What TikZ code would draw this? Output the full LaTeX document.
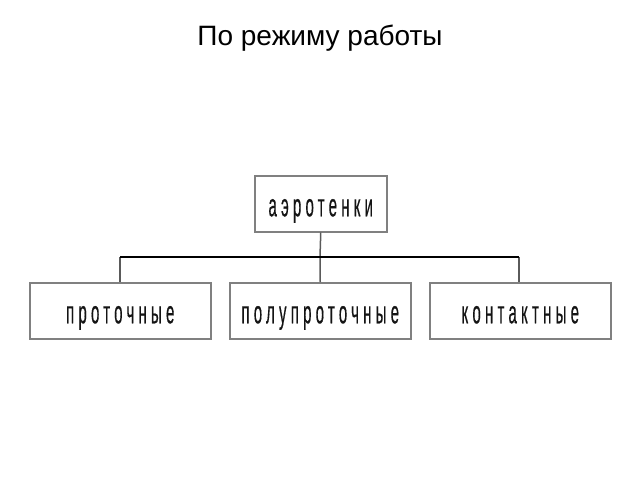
\documentclass[tikz,border=0pt]{standalone}
\usepackage{fontspec}
\setmainfont{Liberation Sans}
\newfontfamily\boxfont[LetterSpace=28,FakeBold=0.6]{Liberation Sans}
\definecolor{boxgray}{RGB}{128,128,128}
\definecolor{linegray}{RGB}{90,90,90}
\definecolor{textdark}{RGB}{20,20,20}
\newcommand{\bt}[1]{\scalebox{0.47}[1]{\boxfont\fontsize{32}{34}\selectfont #1}}
\tikzset{
  catbox/.style={draw=boxgray, line width=1.5pt, fill=white, text=textdark, minimum height=56pt, inner sep=0pt,
    text height=26pt, text depth=1pt, anchor=north west},
  hline/.style={draw=black, line width=1.6pt},
  vline/.style={draw=linegray, line width=1.5pt}
}
\begin{document}
\begin{tikzpicture}[x=1pt,y=-1pt]
\useasboundingbox (0,0) rectangle (640,480);
\node[font=\fontsize{28}{30}\selectfont] (title) at (320,38) {По режиму работы};
\node[catbox, minimum width=132pt] (top) at (254,175) {\bt{аэротенки}};
\node[catbox, minimum width=181pt] (b1) at (29,282) {\bt{проточные}};
\node[catbox, minimum width=181pt] (b2) at (229,282) {\bt{полупроточные}};
\node[catbox, minimum width=181pt] (b3) at (429,282) {\bt{контактные}};
\coordinate (j0) at (320,257);
\coordinate (j1) at (120,257);
\coordinate (j3) at (519,257);
\draw[vline] (top.south) -- (j0);
\draw[vline] (j1) -- (b1.north -| j1);
\draw[vline] (j0) -- (b2.north);
\draw[vline] (j3) -- (b3.north -| j3);
\draw[hline] (j1) -- (j3);
\end{tikzpicture}
\end{document}
